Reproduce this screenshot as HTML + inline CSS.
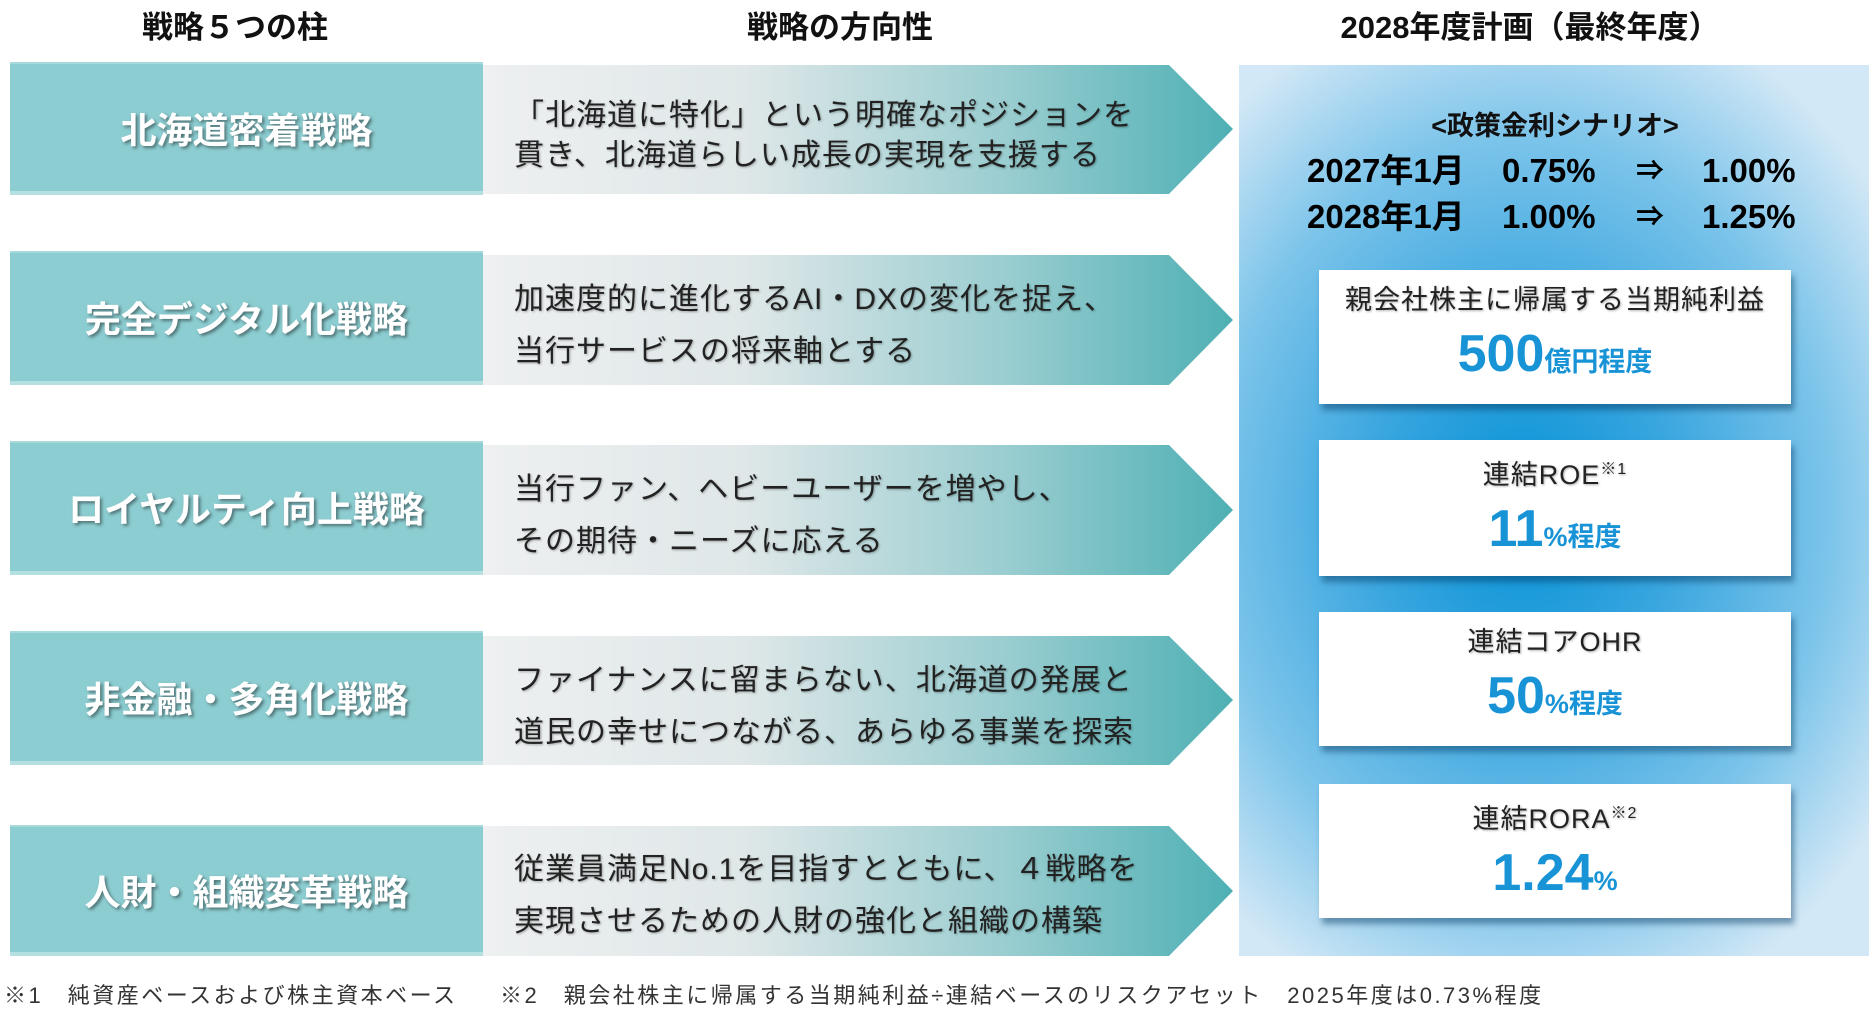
<!DOCTYPE html>
<html><head><meta charset="utf-8">
<style>
*{margin:0;padding:0;box-sizing:border-box}
body{width:1874px;height:1009px;background:#fff;position:relative;overflow:hidden;font-family:"Liberation Sans","Noto Sans CJK JP",sans-serif}
.a{position:absolute;white-space:nowrap}
.h{font-weight:bold;font-size:31px;color:#111;top:2px;text-align:center}
.lb{position:absolute;left:10px;width:473px;background:#8ccdd1;border-bottom:4px solid #b5e0e2;border-top:2px solid #a7dadc;color:#fff;font-weight:bold;font-size:36px;display:flex;align-items:center;justify-content:center;text-shadow:2px 2px 3px rgba(0,0,0,.45)}
.at{position:absolute;left:514px;font-size:30px;letter-spacing:1px;color:#222;text-shadow:1px 1px 2px rgba(0,0,0,.3);line-height:1}
.panel{position:absolute;left:1239px;top:65px;width:630px;height:891px;background:radial-gradient(ellipse 70% 60% at 45% 50%,#0592d6 0%,#3aa6df 35%,#7cc4ea 70%,#d3e8f6 100%)}
.wb{position:absolute;left:1319px;width:472px;background:#fff;box-shadow:3px 6px 6px rgba(0,50,90,.45);text-align:center}
.wl{font-size:27px;letter-spacing:1px;color:#222;text-shadow:1px 1px 2px rgba(0,0,0,.3);margin-top:14px;line-height:32px}
.wv{color:#1893d6;font-weight:bold;margin-top:10px;line-height:56px}
.big{font-size:52px}
.sm{font-size:27px}
.sc{font-weight:bold;font-size:33px;color:#000;line-height:40px}
.fn{font-size:22px;letter-spacing:2.5px;color:#333;top:978px}
</style></head><body>
<div class="a h" style="left:95px;width:280px">戦略５つの柱</div>
<div class="a h" style="left:690px;width:300px">戦略の方向性</div>
<div class="a h" style="left:1300px;width:460px">2028年度計画（最終年度）</div>

<svg width="1874" height="1009" style="position:absolute;left:0;top:0">
<defs><linearGradient id="g" x1="0" x2="1" y1="0" y2="0">
<stop offset="0" stop-color="#eef0f1"/><stop offset="0.35" stop-color="#dfe7e8"/><stop offset="0.7" stop-color="#99cdd0"/><stop offset="1" stop-color="#4eb0b4"/></linearGradient></defs>
<polygon points="483,65 1169,65 1233,129 1169,194 483,194" fill="url(#g)"/>
<polygon points="483,255 1169,255 1233,320 1169,385 483,385" fill="url(#g)"/>
<polygon points="483,445 1169,445 1233,510 1169,575 483,575" fill="url(#g)"/>
<polygon points="483,636 1169,636 1233,700 1169,765 483,765" fill="url(#g)"/>
<polygon points="483,826 1169,826 1233,891 1169,956 483,956" fill="url(#g)"/>
</svg>

<div class="lb" style="top:62px;height:133px">北海道密着戦略</div>
<div class="lb" style="top:251px;height:134px">完全デジタル化戦略</div>
<div class="lb" style="top:441px;height:134px">ロイヤルティ向上戦略</div>
<div class="lb" style="top:631px;height:134px">非金融・多角化戦略</div>
<div class="lb" style="top:825px;height:131px">人財・組織変革戦略</div>

<div class="at" style="top:101px">「北海道に特化」という明確なポジションを</div>
<div class="at" style="top:141px">貫き、北海道らしい成長の実現を支援する</div>
<div class="at" style="top:285px">加速度的に進化するAI・DXの変化を捉え、</div>
<div class="at" style="top:337px">当行サービスの将来軸とする</div>
<div class="at" style="top:475px">当行ファン、ヘビーユーザーを増やし、</div>
<div class="at" style="top:527px">その期待・ニーズに応える</div>
<div class="at" style="top:666px">ファイナンスに留まらない、北海道の発展と</div>
<div class="at" style="top:718px">道民の幸せにつながる、あらゆる事業を探索</div>
<div class="at" style="top:855px">従業員満足No.1を目指すとともに、４戦略を</div>
<div class="at" style="top:907px">実現させるための人財の強化と組織の構築</div>

<div class="panel"></div>
<div class="a" style="left:1319px;width:472px;top:104px;text-align:center;font-weight:bold;font-size:27px;color:#111">&lt;政策金利シナリオ&gt;</div>
<div class="a sc" style="left:1307px;top:151px">2027年1月</div>
<div class="a sc" style="left:1502px;top:151px">0.75%</div>
<div class="a sc" style="left:1636px;top:151px;font-size:28px">⇒</div>
<div class="a sc" style="left:1702px;top:151px">1.00%</div>
<div class="a sc" style="left:1307px;top:197px">2028年1月</div>
<div class="a sc" style="left:1502px;top:197px">1.00%</div>
<div class="a sc" style="left:1636px;top:197px;font-size:28px">⇒</div>
<div class="a sc" style="left:1702px;top:197px">1.25%</div>

<div class="wb" style="top:270px;height:134px"><div class="wl">親会社株主に帰属する当期純利益</div><div class="wv"><span class="big">500</span><span class="sm">億円程度</span></div></div>
<div class="wb" style="top:440px;height:136px"><div class="wl">連結ROE<sup style="font-size:16px">※1</sup></div><div class="wv"><span class="big">11</span><span class="sm">%程度</span></div></div>
<div class="wb" style="top:612px;height:134px"><div class="wl">連結コアOHR</div><div class="wv"><span class="big">50</span><span class="sm">%程度</span></div></div>
<div class="wb" style="top:784px;height:134px"><div class="wl">連結RORA<sup style="font-size:16px">※2</sup></div><div class="wv"><span class="big">1.24</span><span class="sm">%</span></div></div>

<div class="a fn" style="left:4px">※1　純資産ベースおよび株主資本ベース</div>
<div class="a fn" style="left:500px">※2　親会社株主に帰属する当期純利益÷連結ベースのリスクアセット　2025年度は0.73%程度</div>
</body></html>
